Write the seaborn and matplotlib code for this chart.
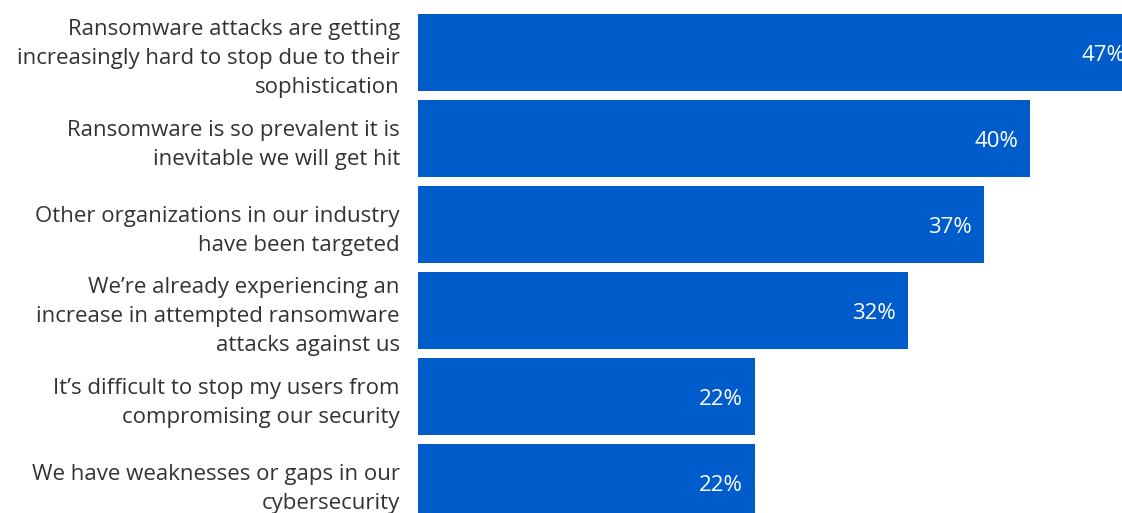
import matplotlib
matplotlib.use('Agg')
import matplotlib.pyplot as plt
import matplotlib.transforms as mtransforms
import pandas as pd
import seaborn as sns

# 数据
labels = [
    "Ransomware attacks are getting\nincreasingly hard to stop due to their\nsophistication",
    "Ransomware is so prevalent it is\ninevitable we will get hit",
    "Other organizations in our industry\nhave been targeted",
    "We’re already experiencing an\nincrease in attempted ransomware\nattacks against us",
    "It’s difficult to stop my users from\ncompromising our security",
    "We have weaknesses or gaps in our\ncybersecurity",
]
values = [47, 40, 37, 32, 22, 22]

df = pd.DataFrame({"reason": labels, "pct": values})

sns.set_style("white")
plt.rcParams['font.family'] = ['Open Sans', 'DejaVu Sans']

fig = plt.figure(figsize=(11.22, 5.13), dpi=100)
ax = fig.add_axes([418 / 1122, 0, 1 - 418 / 1122, 1])

sns.barplot(data=df, y="reason", x="pct", orient="h", color="#005BCB",
            width=0.895, saturation=1, linewidth=0, ax=ax)

ax.set_xlim(0, 46)
ax.set_ylim(5.355, -0.61)

# 文字略微下移
shift = mtransforms.ScaledTranslation(0, -3 / 100, fig.dpi_scale_trans)

# 数值标签
for i, v in enumerate(values):
    ax.text(v - 0.8, i, f"{v}%", ha="right", va="center", color="white",
            fontsize=16, zorder=5, transform=ax.transData + shift)

# 左侧类别标签
ax.set_yticks(range(len(labels)))
ax.set_yticklabels(labels, fontsize=16, color="#333333")
for t in ax.get_yticklabels():
    t.set_linespacing(1.5)
    t.set_transform(t.get_transform() + shift)
ax.tick_params(axis="y", length=0, pad=13)
ax.set_xticks([])
ax.set_xlabel("")
ax.set_ylabel("")
for s in ax.spines.values():
    s.set_visible(False)

plt.savefig("out.png", dpi=100)
plt.close()
